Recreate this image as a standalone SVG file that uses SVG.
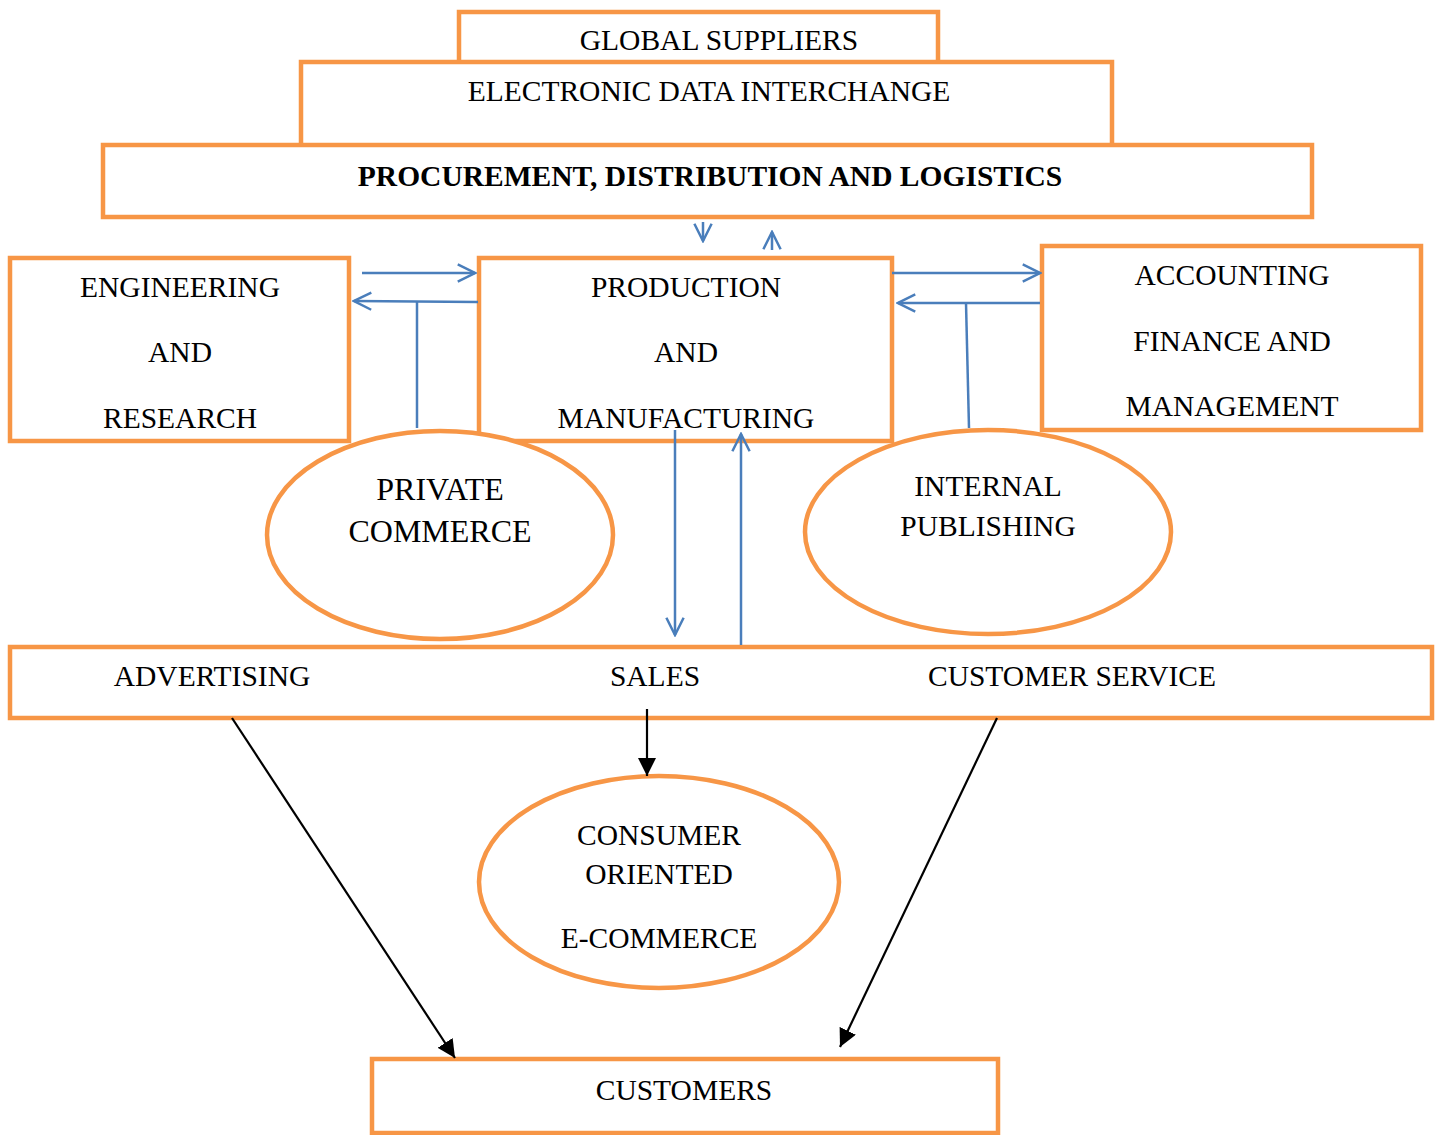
<svg xmlns="http://www.w3.org/2000/svg" width="1438" height="1135" viewBox="0 0 1438 1135">
<defs>
<style>
.box{fill:#fff;stroke:#F79646;stroke-width:4.5}
.t{font-family:"Liberation Serif","Times New Roman",serif;font-size:29.5px;fill:#000;text-anchor:middle}
.b{font-weight:bold}
.blue{stroke:#4A7EBB;stroke-width:2.5;fill:none}
.blk{stroke:#000;stroke-width:2.2;fill:none}
</style>
<marker id="oa" viewBox="0 0 12 12" refX="11" refY="6" markerWidth="23" markerHeight="23" markerUnits="userSpaceOnUse" orient="auto">
<path d="M2,1.5 L11,6 L2,10.5" fill="none" stroke="#4A7EBB" stroke-width="1.3"/>
</marker>
<marker id="fa" viewBox="0 0 10 10" refX="10" refY="5" markerWidth="18" markerHeight="18" markerUnits="userSpaceOnUse" orient="auto">
<path d="M0,0 L10,5 L0,10 z" fill="#000"/>
</marker>
</defs>
<g id="global-suppliers"><rect class="box" x="459" y="12" width="479" height="52"/><text class="t" x="719" y="50">GLOBAL SUPPLIERS</text></g>
<g id="edi"><rect class="box" x="301" y="62" width="811" height="84"/><text class="t" x="709" y="101">ELECTRONIC DATA INTERCHANGE</text></g>
<g id="procurement"><rect class="box" x="103" y="145" width="1209" height="72"/><text class="t b" x="710" y="186">PROCUREMENT, DISTRIBUTION AND LOGISTICS</text></g>
<g id="engineering"><rect class="box" x="10" y="258" width="339" height="183"/><text class="t" x="180" y="297">ENGINEERING</text><text class="t" x="180" y="362">AND</text><text class="t" x="180" y="428">RESEARCH</text></g>
<g id="production"><rect class="box" x="479" y="258" width="413" height="183"/><text class="t" x="686" y="297">PRODUCTION</text><text class="t" x="686" y="362">AND</text><text class="t" x="686" y="428">MANUFACTURING</text></g>
<g id="accounting"><rect class="box" x="1042" y="246" width="379" height="184"/><text class="t" x="1232" y="285">ACCOUNTING</text><text class="t" x="1232" y="351">FINANCE AND</text><text class="t" x="1232" y="416">MANAGEMENT</text></g>
<g id="private-commerce"><ellipse class="box" cx="440" cy="535" rx="173" ry="104"/><text class="t" x="440" y="500" style="font-size:32px">PRIVATE</text><text class="t" x="440" y="542" style="font-size:32px">COMMERCE</text></g>
<g id="internal-publishing"><ellipse class="box" cx="988" cy="532" rx="183" ry="102"/><text class="t" x="988" y="496">INTERNAL</text><text class="t" x="988" y="536">PUBLISHING</text></g>
<g id="sales-bar"><rect class="box" x="10" y="647" width="1422" height="71"/><text class="t" x="212" y="686">ADVERTISING</text><text class="t" x="655" y="686">SALES</text><text class="t" x="1072" y="686">CUSTOMER SERVICE</text></g>
<g id="consumer"><ellipse class="box" cx="659" cy="882" rx="180" ry="106"/><text class="t" x="659" y="845">CONSUMER</text><text class="t" x="659" y="884">ORIENTED</text><text class="t" x="659" y="948">E-COMMERCE</text></g>
<g id="customers"><rect class="box" x="372" y="1059" width="626" height="74"/><text class="t" x="684" y="1100">CUSTOMERS</text></g>
<g id="connectors">
<line class="blue" x1="703" y1="222" x2="703" y2="241" marker-end="url(#oa)"/>
<line class="blue" x1="772" y1="250" x2="772" y2="232" marker-end="url(#oa)"/>
<line class="blue" x1="362" y1="273" x2="475" y2="273" marker-end="url(#oa)"/>
<line class="blue" x1="478" y1="302" x2="354" y2="301" marker-end="url(#oa)"/>
<line class="blue" x1="417" y1="302" x2="417" y2="428"/>
<line class="blue" x1="892" y1="273" x2="1040" y2="273" marker-end="url(#oa)"/>
<line class="blue" x1="1040" y1="303" x2="898" y2="303" marker-end="url(#oa)"/>
<line class="blue" x1="966" y1="303" x2="969" y2="428"/>
<line class="blue" x1="675" y1="430" x2="675" y2="635" marker-end="url(#oa)"/>
<line class="blue" x1="741" y1="645" x2="741" y2="434" marker-end="url(#oa)"/>
<line class="blk" x1="232" y1="718" x2="455" y2="1058" marker-end="url(#fa)"/>
<line class="blk" x1="647" y1="709" x2="647" y2="776" marker-end="url(#fa)"/>
<line class="blk" x1="997" y1="718" x2="840" y2="1047" marker-end="url(#fa)"/>
</g>
</svg>
